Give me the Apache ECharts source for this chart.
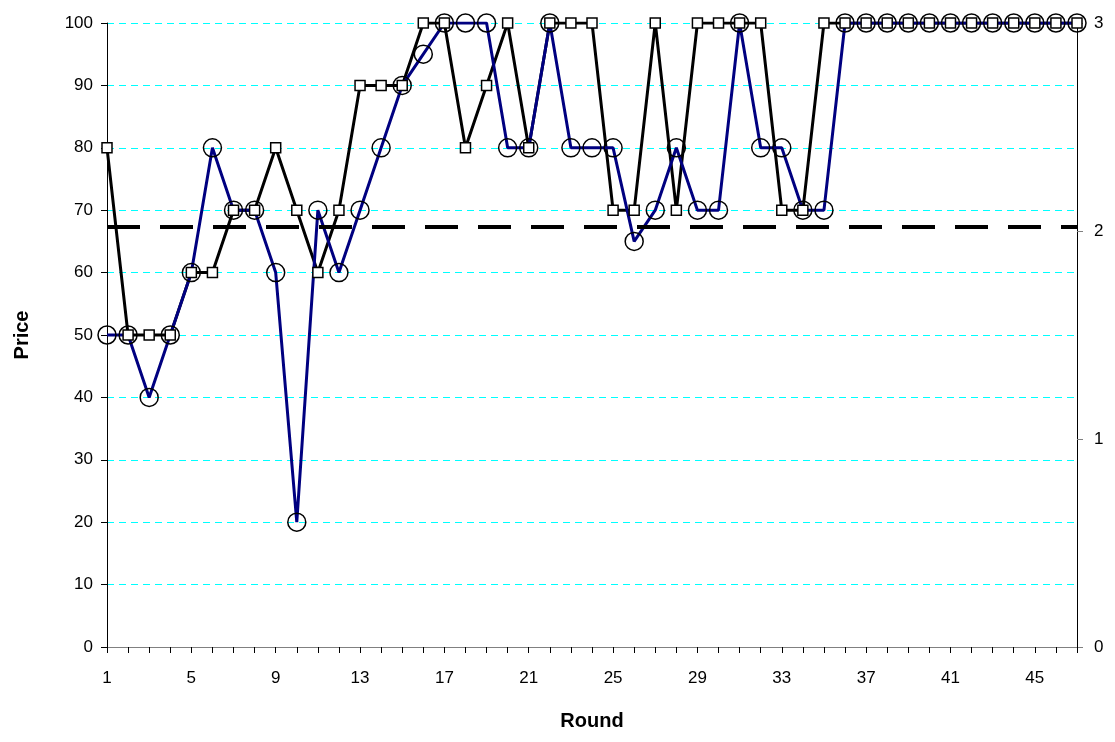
<!DOCTYPE html>
<html>
<head>
<meta charset="utf-8">
<script src="https://cdn.jsdelivr.net/npm/echarts@6/dist/echarts.min.js"></script>
<style>
  html, body { margin: 0; padding: 0; background: #fff; }
  #chart-container { width: 1115px; height: 742px; }
</style>
</head>
<body>
<div id="chart-container"></div>
<script>
// rounds 1..47
const rounds = ['1','2','3','4','5','6','7','8','9','10','11','12','13','14','15','16','17','18','19','20',
  '21','22','23','24','25','26','27','28','29','30','31','32','33','34','35','36','37','38','39','40',
  '41','42','43','44','45','46','47'];

// black line, square markers
const priceSquares = [80, 50, 50, 50, 60, 60, 70, 70, 80, 70, 60, 70, 90, 90, 90, 100, 100, 80, 90, 100,
  80, 100, 100, 100, 70, 70, 100, 70, 100, 100, 100, 100, 70, 70, 100, 100, 100, 100, 100, 100,
  100, 100, 100, 100, 100, 100, 100];

// navy line, circle markers
const priceCircles = [50, 50, 40, 50, 60, 80, 70, 70, 60, 20, 70, 60, 70, 80, 90, 95, 100, 100, 100, 80,
  80, 100, 80, 80, 80, 65, 70, 80, 70, 70, 100, 80, 80, 70, 70, 100, 100, 100, 100, 100,
  100, 100, 100, 100, 100, 100, 100];

// horizontal dashed reference level
const refLevel = 67.3;

const font = 'Liberation Sans, Arial, sans-serif';

const chartOption = {
  animation: false,
  backgroundColor: '#fff',
  grid: { left: 107, right: 38, top: 23, bottom: 95 },
  xAxis: {
    type: 'category',
    data: rounds,
    boundaryGap: false,
    name: 'Round',
    nameLocation: 'middle',
    nameGap: 64,
    nameTextStyle: { fontFamily: font, fontSize: 20, fontWeight: 'bold', color: '#000' },
    axisLine: { lineStyle: { color: '#808080', width: 1 } },
    axisTick: { show: true, interval: 0, length: 6, lineStyle: { color: '#000' } },
    axisLabel: { interval: 3, margin: 23, fontFamily: font, fontSize: 17, color: '#000' },
    splitLine: { show: false }
  },
  yAxis: [{
    type: 'value',
    min: 0, max: 100, interval: 10,
    name: 'Price',
    nameLocation: 'middle',
    nameGap: 75,
    nameRotate: 90,
    nameTextStyle: { fontFamily: font, fontSize: 20, fontWeight: 'bold', color: '#000' },
    axisLine: { show: true, lineStyle: { color: '#000', width: 1 } },
    axisTick: { show: true, length: 6, lineStyle: { color: '#000' } },
    axisLabel: { margin: 14, fontFamily: font, fontSize: 17, color: '#000' },
    splitLine: { show: true, lineStyle: { color: '#00ffff', type: [7, 5], width: 1 } }
  }, {
    type: 'value',
    min: 0, max: 3, interval: 1,
    position: 'right',
    axisLine: { show: true, lineStyle: { color: '#000', width: 1 } },
    axisTick: { show: true, length: 6, lineStyle: { color: '#808080' } },
    axisLabel: { margin: 17, fontFamily: font, fontSize: 17, color: '#000' },
    splitLine: { show: false }
  }],
  series: [{
      name: 'squares',
      type: 'line',
      data: priceSquares,
      symbol: 'rect',
      symbolSize: 10,
      showAllSymbol: true,
      lineStyle: { color: '#000', width: 3 },
      itemStyle: { color: '#fff', borderColor: '#000', borderWidth: 1.5 },
      markLine: {
        silent: true,
        symbol: ['none', 'none'],
        label: { show: false },
        lineStyle: { color: '#000', width: 4, type: [33, 20] },
        data: [{ yAxis: refLevel }]
      }
    },
    {
      name: 'circles',
      type: 'line',
      data: priceCircles,
      symbol: 'circle',
      symbolSize: 18,
      showAllSymbol: true,
      lineStyle: { color: '#000080', width: 3 },
      itemStyle: { color: 'rgba(0,0,0,0)', borderColor: '#000', borderWidth: 1.5 }
    }
  ]
};

const chartContainer = document.getElementById('chart-container');
const chart = echarts.init(chartContainer);
chart.setOption(chartOption);
</script>
</body>
</html>
